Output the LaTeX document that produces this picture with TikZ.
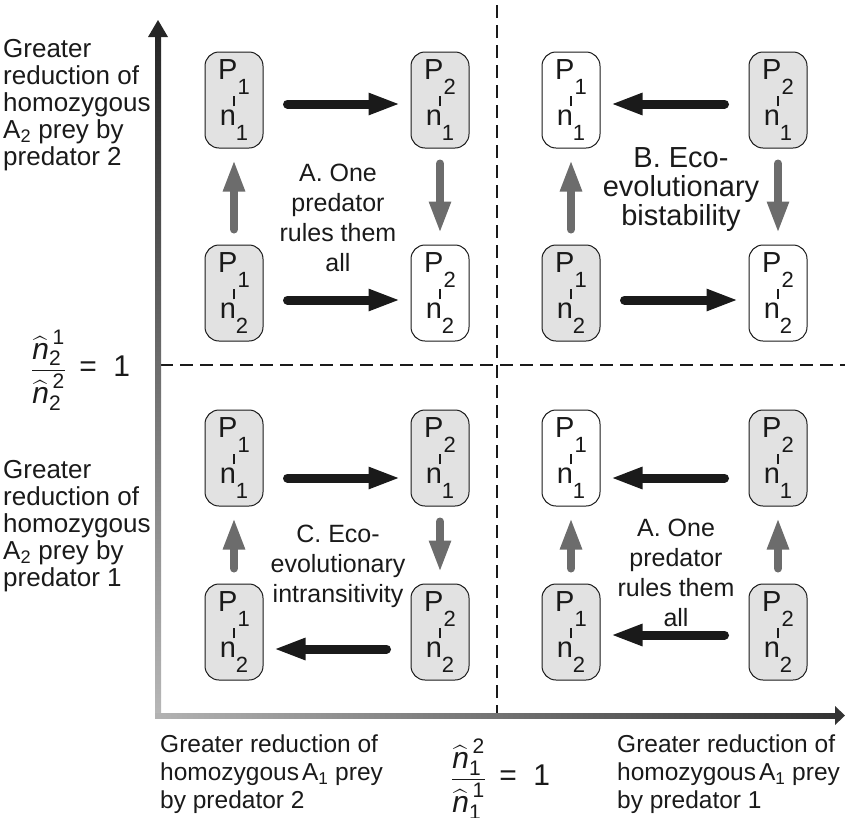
\documentclass[tikz,border=0pt]{standalone}
\usepackage{amsmath}
\usepackage{fontspec}
\setmainfont{Liberation Sans}
\usetikzlibrary{arrows.meta}
\definecolor{boxgray}{HTML}{E2E2E2}
\definecolor{arrgray}{HTML}{6C6C6C}
\definecolor{ink}{HTML}{1A1A1A}
\newcommand{\PN}[2]{P\raisebox{-15pt}{\fontsize{22}{22}\selectfont #1}\\\rule[-4pt]{1.2pt}{10pt}\\n\raisebox{-15pt}{\fontsize{22}{22}\selectfont #2}}
\newcommand{\nh}[2]{\widehat{\textit{n}}^{\,\text{#1}}_{\text{#2}}}
\begin{document}
\begin{tikzpicture}[x=1pt,y=-1pt,
  pbox/.style={draw=ink, line width=1pt, rounded corners=14pt, minimum width=58pt,
    minimum height=96pt, inner sep=0pt, align=center, text=ink,
    font=\fontsize{29}{23}\selectfont},
  gbox/.style={pbox, fill=boxgray},
  wbox/.style={pbox, fill=white},
  harr/.style={draw=ink, line width=9pt, line cap=round,
    -{Triangle[length=32pt,width=20pt]}, shorten <=24pt, shorten >=10pt},
  varr/.style={draw=arrgray, line width=8pt, line cap=round,
    -{Triangle[length=32pt,width=20pt]}, shorten <=15pt, shorten >=11pt},
  qlab/.style={align=center, text=ink, inner sep=0pt, font=\fontsize{25}{30}\selectfont},
  alab/.style={align=left, text=ink, inner sep=0pt, anchor=north west,
    font=\fontsize{26}{27}\selectfont},
  xlab/.style={alab, font=\fontsize{24.5}{28}\selectfont},
  dashln/.style={draw=ink, line width=2.6pt, dash pattern=on 13pt off 7pt},
  frac/.style={text=ink, inner sep=0pt, font=\fontsize{30}{32}\selectfont}
]
\useasboundingbox (0,0) rectangle (845,817);

% dashed dividers
\coordinate (vtop) at (497,5);
\coordinate (vbot) at (497,713);
\coordinate (hl) at (160,365);
\coordinate (hr) at (845,365);
\draw[dashln] (vtop) -- (vbot);
\draw[dashln] (hl) -- (hr);

% axes with gradient
\shade[top color=black!85, bottom color=black!28] (155,717) rectangle (161,36);
\fill[black!85] (148,37) -- (158,20) -- (168,37) -- cycle;
\shade[left color=black!30, right color=black!80] (155,713) rectangle (836,718);
\fill[black!80] (835,706) -- (845,715.5) -- (835,725) -- cycle;

% quadrant A (top-left)
\node[gbox] (a11) at (234,100) {\PN{1}{1}};
\node[gbox] (a21) at (440,100) {\PN{2}{1}};
\node[gbox] (a12) at (234,293) {\PN{1}{2}};
\node[wbox] (a22) at (440,293) {\PN{2}{2}};
\draw[harr] ([yshift=-4pt]a11.east) -- ([yshift=-4pt]a21.west);
\draw[harr] ([yshift=-7pt]a12.east) -- ([yshift=-7pt]a22.west);
\draw[varr] (a12.north) -- (a11.south);
\draw[varr] (a21.south) -- (a22.north);
\node[qlab] (la) at (338,218) {A. One\\predator\\rules them\\all};

% quadrant B (top-right)
\node[wbox] (b11) at (571,100) {\PN{1}{1}};
\node[gbox] (b21) at (778,100) {\PN{2}{1}};
\node[gbox] (b12) at (571,293) {\PN{1}{2}};
\node[wbox] (b22) at (778,293) {\PN{2}{2}};
\draw[harr] ([yshift=-4pt]b21.west) -- ([yshift=-4pt]b11.east);
\draw[harr] ([yshift=-7pt]b12.east) -- ([yshift=-7pt]b22.west);
\draw[varr] (b12.north) -- (b11.south);
\draw[varr] (b21.south) -- (b22.north);
\node[qlab, font=\fontsize{29}{29}\selectfont] (lb) at (681,190) {B. Eco-\\evolutionary\\bistability};

% quadrant C (bottom-left)
\node[gbox] (c11) at (234,458) {\PN{1}{1}};
\node[gbox] (c21) at (440,458) {\PN{2}{1}};
\node[gbox] (c12) at (234,632) {\PN{1}{2}};
\node[gbox] (c22) at (440,632) {\PN{2}{2}};
\draw[harr] ([yshift=-20pt]c11.east) -- ([yshift=-20pt]c21.west);
\draw[harr] ([yshift=-17pt]c22.west) -- ([yshift=-17pt]c12.east);
\draw[varr] (c12.north) -- (c11.south);
\draw[varr] (c21.south) -- (c22.north);
\node[qlab] (lc) at (338,566) {C. Eco-\\evolutionary\\intransitivity};

% quadrant D (bottom-right)
\node[wbox] (d11) at (571,458) {\PN{1}{1}};
\node[gbox] (d21) at (778,458) {\PN{2}{1}};
\node[gbox] (d12) at (571,632) {\PN{1}{2}};
\node[gbox] (d22) at (778,632) {\PN{2}{2}};
\draw[harr] ([yshift=-20pt]d21.west) -- ([yshift=-20pt]d11.east);
\draw[harr] ([yshift=-3pt]d22.west) -- ([yshift=-3pt]d12.east);
\draw[varr] (d12.north) -- (d11.south);
\draw[varr] (d22.north) -- (d21.south);
\node[qlab] (ld) at (676,573) {A. One\\predator\\rules them\\all};

% axis labels
\node[alab] (ly1) at (3,39) {Greater\\reduction of\\homozygous\\A\textsubscript{2} prey by\\predator 2};
\node[alab] (ly2) at (3,460) {Greater\\reduction of\\homozygous\\A\textsubscript{2} prey by\\predator 1};
\node[xlab] (lx1) at (160,735) {Greater reduction of\\homozygous\hspace{0.12em}A\textsubscript{1} prey\\by predator 2};
\node[xlab] (lx2) at (617,735) {Greater reduction of\\homozygous\hspace{0.12em}A\textsubscript{1} prey\\by predator 1};

% fractions
\node[frac, anchor=west] (f1) at (31,370) {$\dfrac{\nh{1}{2}}{\nh{2}{2}}$\,\ = \ 1};
\node[frac, anchor=west] (f2) at (451,779) {$\dfrac{\nh{2}{1}}{\nh{1}{1}}$\,\ = \ 1};
\end{tikzpicture}
\end{document}
